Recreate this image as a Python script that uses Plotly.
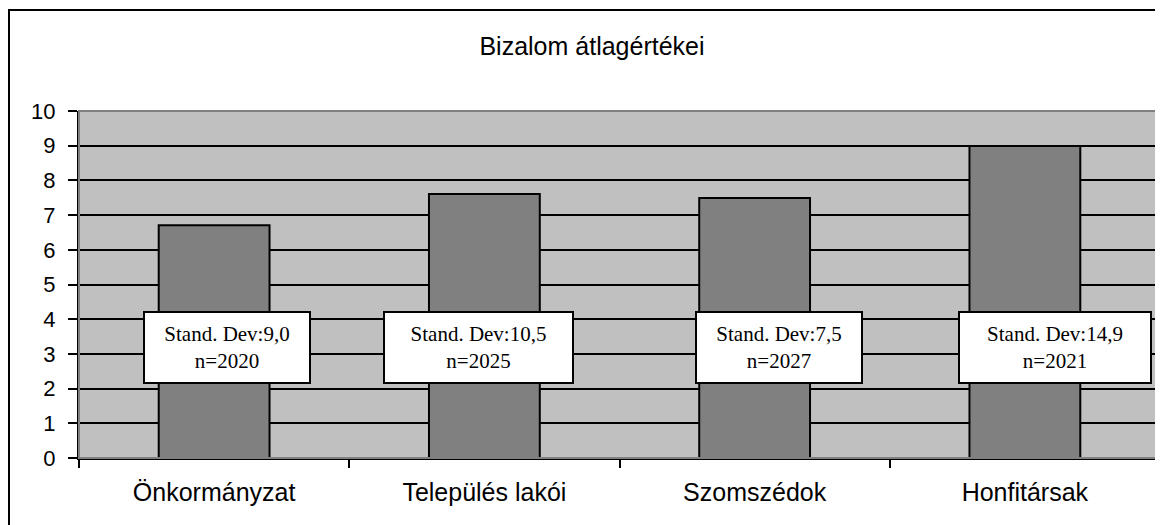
import plotly.graph_objects as go

# --- Data ---
categories = ["Önkormányzat", "Település lakói", "Szomszédok", "Honfitársak"]
means = [6.71, 7.61, 7.49, 8.99]
std_devs = ["9,0", "10,5", "7,5", "14,9"]
counts = [2020, 2025, 2027, 2021]
y_ticks = list(range(0, 11))

# --- Style ---
SANS = "Arial, Liberation Sans, sans-serif"
SERIF = "Times New Roman, Liberation Serif, serif"
PLOT_BG = "#c0c0c0"
BAR_FILL = "#808080"

# the page body adds an 8px offset, margins are set to make up for it
W, H = 1163, 525
M_L, M_R, M_T, M_B = 71, 11, 103, 75

# label box placement (pixel shift from the category centre) and text width
BOX_SHIFT = [13, -6, 24, 30]
BOX_WIDTH = [146, 169, 146, 172]

fig = go.Figure()

fig.add_trace(go.Bar(
    x=categories,
    y=means,
    width=0.41,
    marker=dict(color=BAR_FILL, line=dict(color="black", width=2)),
    hoverinfo="skip",
    showlegend=False,
))

for i, cat in enumerate(categories):
    fig.add_annotation(
        x=cat, y=3.18, xref="x", yref="y",
        xshift=BOX_SHIFT[i],
        text=f"Stand. Dev:{std_devs[i]}<br>n={counts[i]}",
        showarrow=False,
        align="center",
        width=BOX_WIDTH[i],
        font=dict(family=SERIF, size=21, color="black"),
        bgcolor="white",
        bordercolor="black",
        borderwidth=2,
        borderpad=9,
    )

# gray frame of the plot area (top / right edges)
fig.add_shape(
    type="rect", xref="paper", yref="paper",
    x0=0, x1=1, y0=0, y1=1,
    line=dict(color="#808080", width=2),
    layer="above",
)

# outer chart frame, runs past the window on the right and bottom
pw = W - M_L - M_R
ph = H - M_T - M_B
fig.add_shape(
    type="rect", xref="paper", yref="paper",
    x0=(1 - M_L) / pw, x1=(W + 20 - M_L) / pw,
    y0=(H - M_B - (H + 20)) / ph, y1=(H - M_B - 2) / ph,
    line=dict(color="black", width=2),
    layer="above",
)

fig.update_layout(
    width=W, height=H,
    margin=dict(l=M_L, r=M_R, t=M_T, b=M_B),
    paper_bgcolor="white",
    plot_bgcolor=PLOT_BG,
    title=dict(
        text="Bizalom átlagértékei",
        x=584 / W, xref="container", xanchor="center",
        y=1 - 38 / H, yref="container", yanchor="middle",
        font=dict(family=SANS, size=25, color="black"),
    ),
    bargap=0.59,
)

fig.update_xaxes(
    type="category",
    showline=True, linecolor="black", linewidth=2,
    ticks="outside", tickson="boundaries", ticklen=8, tickwidth=2, tickcolor="black",
    tickfont=dict(family=SANS, size=25, color="black"),
    showgrid=False,
    ticklabelstandoff=11,
)

fig.update_yaxes(
    range=[0, 10],
    tickvals=y_ticks,
    showline=True, linecolor="black", linewidth=2,
    ticks="outside", ticklen=9, tickwidth=2, tickcolor="black",
    tickfont=dict(family=SANS, size=22, color="black"),
    showgrid=True, gridcolor="black", gridwidth=2,
    zeroline=False,
    ticklabelstandoff=8,
)

fig.write_html("out.html")
